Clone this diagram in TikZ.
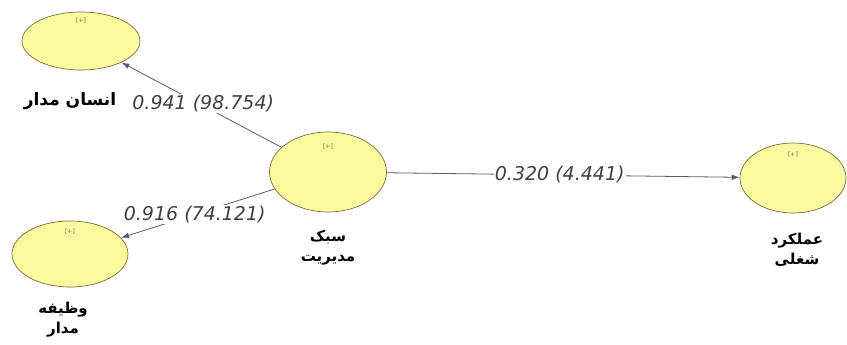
\documentclass[tikz,border=0pt]{standalone}
\usepackage{fontspec}
\usepackage{xcolor}
\usetikzlibrary{shapes.geometric, positioning, arrows.meta}
\TeXXeTstate=1
\newfontfamily\farsifont[Script=Arabic]{DejaVu Sans}
\newfontfamily\numfont{DejaVu Sans}
\definecolor{zardrang}{RGB}{252,250,160}
\definecolor{marzrang}{RGB}{120,112,50}
\definecolor{khatrang}{RGB}{90,90,110}

\begin{document}
\begin{tikzpicture}[>={Latex[length=8pt,width=5.5pt]}, x=1pt, y=-1pt,
    sazeh/.style={ellipse, draw=marzrang, fill=zardrang, line width=0.7pt, inner sep=0pt},
    alamat/.style={font=\numfont\fontsize{6}{6}\selectfont, text=marzrang, inner sep=0pt},
    nam/.style={font=\farsifont\bfseries\fontsize{15}{20}\selectfont, align=center, inner sep=0pt},
    zarib/.style={font=\numfont\itshape\fontsize{19}{19}\selectfont, text=black!75, fill=white, inner sep=1pt},
    peykan/.style={->, draw=khatrang, line width=0.8pt}]
    \useasboundingbox (0,0) rectangle (847,345);

    % 1. Ellipses
    \node[sazeh, minimum width=118pt, minimum height=58pt] (ensan) at (81,41) {};
    \node[sazeh, minimum width=116pt, minimum height=66pt] (vazife) at (70,254) {};
    \node[sazeh, minimum width=117pt, minimum height=80pt] (sabk) at (328,172) {};
    \node[sazeh, minimum width=106pt, minimum height=70pt] (amalkard) at (793,178) {};

    % [+] marks
    \node[alamat, below=6pt of ensan.north] {[+]};
    \node[alamat, below=8pt of vazife.north] {[+]};
    \node[alamat, below=12pt of sabk.north] {[+]};
    \node[alamat, below=9pt of amalkard.north] {[+]};

    % 2. Names
    \node[nam, font=\farsifont\bfseries\fontsize{17}{20}\selectfont] (ensanNam) at (70,101) {\beginR انسان مدار\endR};
    \node[nam] (vazifeNam) at (63,320) {\beginR وظیفه\endR\\\beginR مدار\endR};
    \node[nam] (sabkNam) at (328,248) {\beginR سبک\endR\\\beginR مدیریت\endR};
    \node[nam] (amalkardNam) at (797,250) {\beginR عملکرد\endR\\\beginR شغلی\endR};

    % 3. Paths with coefficients
    \draw[peykan] (sabk) -- node[zarib, pos=0.42, xshift=-11pt, yshift=8pt] {0.941 (98.754)} (ensan);
    \draw[peykan] (sabk) -- node[zarib, pos=0.52] {0.916 (74.121)} (vazife);
    \draw[peykan] (sabk) -- node[zarib, pos=0.49] {0.320 (4.441)} (amalkard);

\end{tikzpicture}
\end{document}
